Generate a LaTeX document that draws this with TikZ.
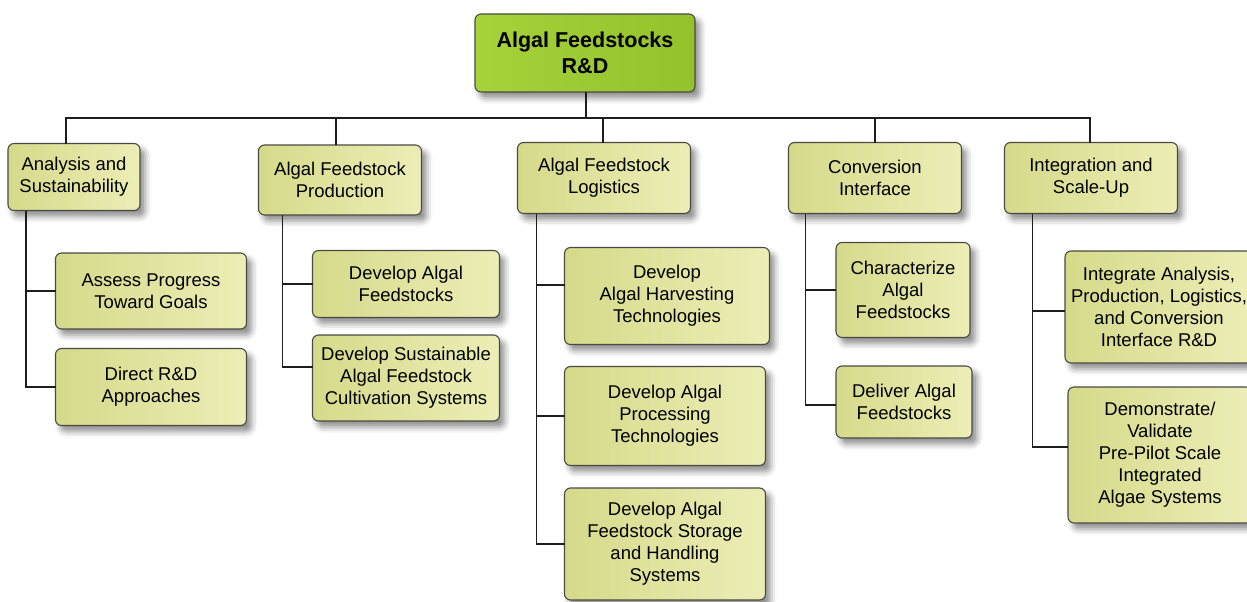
\documentclass[tikz,border=0pt]{standalone}
\usepackage{fontspec}
\setmainfont{Liberation Sans}
\usepackage{tikz}
\usetikzlibrary{shadows.blur}
\definecolor{rootL}{HTML}{A6D23A}
\definecolor{rootR}{HTML}{93C22A}
\definecolor{boxL}{HTML}{D5DA8A}
\definecolor{boxR}{HTML}{ECEEB6}
\definecolor{rim}{HTML}{4A4A44}
\definecolor{wire}{HTML}{1E1E1E}
\begin{document}
\begin{tikzpicture}[x=1pt, y=-1pt,
  every node/.style={align=center, inner sep=0pt, outer sep=0pt, font=\fontsize{18.5}{22}\selectfont},
  wbs/.style={draw=rim, line width=1.1pt, rounded corners=6pt, left color=boxL, right color=boxR,
    blur shadow={shadow xshift=5pt, shadow yshift=-6pt, shadow blur radius=6pt, shadow opacity=45}},
  root/.style={wbs, left color=rootL, right color=rootR, font=\fontsize{21.5}{26}\selectfont\bfseries},
  link/.style={draw=wire, line width=1.6pt}]
\useasboundingbox (0,0) rectangle (1247,602);
\node[root, minimum width=220pt, minimum height=78pt] (rd) at (585,53) {Algal Feedstocks\\R\&D};
\node[wbs, minimum width=132pt, minimum height=67pt] (as) at (74,177) {Analysis and\\Sustainability};
\node[wbs, minimum width=163pt, minimum height=70pt] (pr) at (340,180) {Algal Feedstock\\Production};
\node[wbs, minimum width=173pt, minimum height=71pt] (lg) at (604,178) {Algal Feedstock\\Logistics};
\node[wbs, minimum width=173pt, minimum height=71pt] (ci) at (875,178) {Conversion\\Interface};
\node[wbs, minimum width=173pt, minimum height=71pt] (is) at (1091,178) {Integration and\\Scale-Up};
\node[wbs, minimum width=191pt, minimum height=76pt] (as1) at (151,291) {Assess Progress\\Toward Goals};
\node[wbs, minimum width=191pt, minimum height=77pt] (as2) at (151,387) {Direct R\&D\\Approaches};
\node[wbs, minimum width=187pt, minimum height=67pt] (pr1) at (406,284) {Develop Algal\\Feedstocks};
\node[wbs, minimum width=187pt, minimum height=86pt] (pr2) at (406,378) {Develop Sustainable\\Algal Feedstock\\Cultivation Systems};
\node[wbs, minimum width=205pt, minimum height=97pt] (lg1) at (667,296) {Develop\\Algal Harvesting\\Technologies};
\node[wbs, minimum width=201pt, minimum height=99pt] (lg2) at (665,416) {Develop Algal\\Processing\\Technologies};
\node[wbs, minimum width=201pt, minimum height=112pt] (lg3) at (665,544) {Develop Algal\\Feedstock Storage\\and Handling\\Systems};
\node[wbs, minimum width=134pt, minimum height=95pt] (ci1) at (903,290) {Characterize\\Algal\\Feedstocks};
\node[wbs, minimum width=136pt, minimum height=72pt] (ci2) at (904,402) {Deliver Algal\\Feedstocks};
\node[wbs, minimum width=188pt, minimum height=112pt] (is1) at (1159,307) {Integrate Analysis,\\Production, Logistics,\\and Conversion\\Interface R\&D};
\node[wbs, minimum width=184pt, minimum height=136pt] (is2) at (1160,455) {Demonstrate/\\Validate\\Pre-Pilot Scale\\Integrated\\Algae Systems};
\coordinate (bus) at (586,118);
\draw[link] (rd.south -| bus) -- (bus);
\draw[link] ([xshift=-8pt]as.north) |- ([xshift=-1pt]is.north |- bus) -- ([xshift=-1pt]is.north);
\foreach \n/\dx in {pr/-4pt, lg/-1pt, ci/0pt}
  \draw[link] ([xshift=\dx]\n.north |- bus) -- ([xshift=\dx]\n.north);
\draw[link] ([xshift=18pt]as.south west) |- (as1.west);
\draw[link] ([xshift=18pt]as.south west) |- (as2.west);
\draw[link] ([xshift=24pt]pr.south west) |- (pr1.west);
\draw[link] ([xshift=24pt]pr.south west) |- ([yshift=11pt]pr2.west);
\draw[link] ([xshift=19pt]lg.south west) |- ([yshift=11pt]lg1.west);
\draw[link] ([xshift=19pt]lg.south west) |- (lg2.west);
\draw[link] ([xshift=19pt]lg.south west) |- (lg3.west);
\draw[link] ([xshift=17pt]ci.south west) |- (ci1.west);
\draw[link] ([xshift=17pt]ci.south west) |- ([yshift=-3pt]ci2.west);
\draw[link] ([xshift=28pt]is.south west) |- ([yshift=-4pt]is1.west);
\draw[link] ([xshift=28pt]is.south west) |- ([yshift=8pt]is2.west);
\end{tikzpicture}
\end{document}
